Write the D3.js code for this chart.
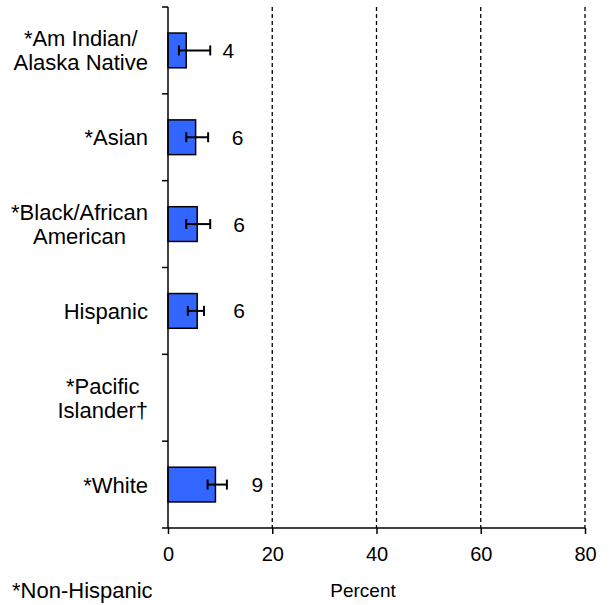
<!DOCTYPE html>
<html><head><meta charset="utf-8">
<script src="https://cdn.jsdelivr.net/npm/d3@7"></script>
<style>
html,body{margin:0;padding:0;background:#fff;}
text{font-family:"Liberation Sans", Arial, sans-serif;fill:#000;}
</style></head>
<body>
<svg id="chart" width="610" height="605"></svg>
<script>
const categories = [
  ["*Am Indian/", "Alaska Native"],
  ["*Asian"],
  ["*Black/African", "American"],
  ["Hispanic"],
  ["*Pacific", "Islander\u2020"],
  ["*White"]
];
const values = [3.5, 5.3, 5.6, 5.6, null, 9.1];
const lowerCI = [2.1, 3.5, 3.5, 3.8, null, 7.6];
const upperCI = [8.1, 7.7, 8.1, 6.9, null, 11.3];
const valueLabels = ["4", "6", "6", "6", "", "9"];
const xTicks = [0, 20, 40, 60, 80];
const xTitle = "Percent";
const footnote = "*Non-Hispanic";

(function () {
const svg = d3.select("#chart");
const mLeft = 168, mRight = 585, mTop = 7, mBottom = 528;

const x = d3.scaleLinear().domain([0, 80]).range([mLeft, mRight]);
const y = d3.scaleBand().domain(d3.range(categories.length)).range([mTop, mBottom]).paddingInner(0).paddingOuter(0);
const barH = y.bandwidth() * 0.4;

// dashed gridlines
svg.append("g").selectAll("line").data(xTicks.filter(d => d > 0)).join("line")
  .attr("x1", d => x(d)).attr("x2", d => x(d))
  .attr("y1", mTop).attr("y2", mBottom)
  .attr("stroke", "#000").attr("stroke-width", 1.3).attr("stroke-dasharray", "4,3");

const data = categories.map((c, i) => ({i, v: values[i], lo: lowerCI[i], hi: upperCI[i], lab: valueLabels[i]}));
const valid = data.filter(d => d.v != null);

svg.append("g").selectAll("rect").data(valid).join("rect")
  .attr("x", x(0))
  .attr("y", d => y(d.i) + y.bandwidth()/2 - barH/2)
  .attr("width", d => x(d.v) - x(0))
  .attr("height", barH)
  .attr("fill", "#3366ff").attr("stroke", "#000").attr("stroke-width", 1.5);

// error bars
const eg = svg.append("g").attr("stroke", "#000").attr("stroke-width", 2);
valid.forEach(d => {
  const cy = y(d.i) + y.bandwidth()/2;
  eg.append("line").attr("x1", x(d.lo)).attr("x2", x(d.hi)).attr("y1", cy).attr("y2", cy);
  eg.append("line").attr("x1", x(d.lo)).attr("x2", x(d.lo)).attr("y1", cy-5).attr("y2", cy+5);
  eg.append("line").attr("x1", x(d.hi)).attr("x2", x(d.hi)).attr("y1", cy-5).attr("y2", cy+5);
});

// value labels
svg.append("g").selectAll("text").data(valid).join("text")
  .attr("x", d => x(d.v) + 42)
  .attr("y", d => y(d.i) + y.bandwidth()/2)
  .attr("dy", "0.36em")
  .attr("text-anchor", "middle")
  .attr("font-size", 21)
  .text(d => d.lab);

// y axis
svg.append("line").attr("x1", mLeft).attr("x2", mLeft).attr("y1", mTop).attr("y2", mBottom)
  .attr("stroke", "#000").attr("stroke-width", 1.5);
const yTickPos = d3.range(categories.length).map(i => y(i));
svg.append("g").selectAll("line").data(yTickPos).join("line")
  .attr("x1", mLeft - 6).attr("x2", mLeft).attr("y1", d => d).attr("y2", d => d)
  .attr("stroke", "#000").attr("stroke-width", 1.5);

// x axis
const xAxis = d3.axisBottom(x).tickValues(xTicks).tickSize(6).tickSizeOuter(0).tickPadding(13);
const xg = svg.append("g").attr("transform", `translate(0,${mBottom})`).call(xAxis);
xg.select(".domain").remove();
xg.selectAll(".tick line").attr("stroke", "#000").attr("stroke-width", 1.5);
xg.selectAll(".tick text").attr("font-size", 20).attr("font-family", "Liberation Sans, Arial, sans-serif").attr("fill", "#000");
svg.append("line").attr("x1", mLeft - 6).attr("x2", mRight).attr("y1", mBottom).attr("y2", mBottom)
  .attr("stroke", "#000").attr("stroke-width", 1.5);

// category labels
const labelRight = 148;
categories.forEach((lines, i) => {
  const g = svg.append("g");
  const cy = y(i) + y.bandwidth()/2;
  const lh = 24;
  const texts = lines.map((l, j) => g.append("text")
    .attr("font-size", 22)
    .attr("text-anchor", "middle")
    .attr("y", cy + (j - (lines.length - 1)/2) * lh)
    .attr("dy", "0.36em")
    .text(l));
  const w = d3.max(texts, t => t.node().getComputedTextLength());
  texts.forEach(t => t.attr("x", labelRight - w/2));
});

svg.append("text").attr("x", 363).attr("y", 597).attr("text-anchor", "middle")
  .attr("font-size", 19).text(xTitle);
svg.append("text").attr("x", 12).attr("y", 598).attr("font-size", 22).text(footnote);
})();
</script>
</body></html>
